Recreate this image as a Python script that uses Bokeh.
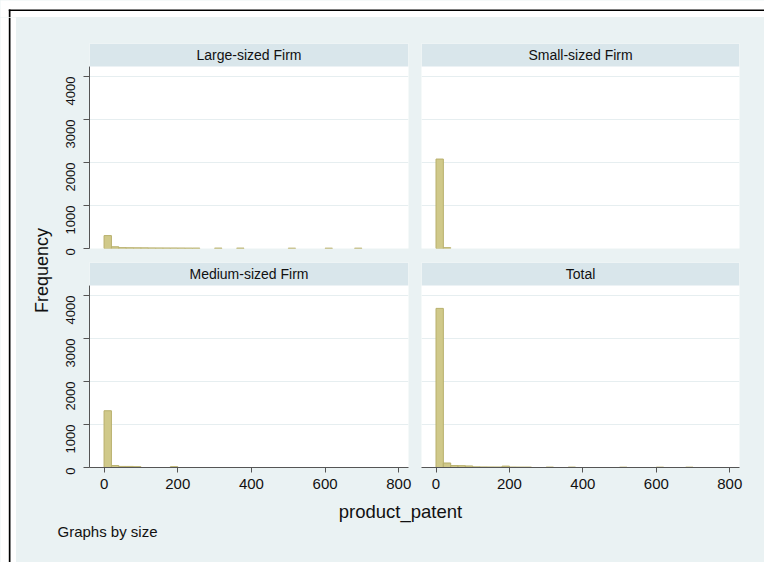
import math
from bokeh.plotting import figure
from bokeh.layouts import row, column
from bokeh.models import (Range1d, LinearAxis, FixedTicker, Grid, BoxAnnotation,
                          Label, ColumnDataSource)
from bokeh.embed import file_html
from bokeh.resources import INLINE
from bokeh.core.properties import value

# ---------------- data (histogram of product_patent by size) ----------------
BIN_START = 0
BIN_WIDTH = 20
# counts per bin (bins of width 20 starting at 0, 35 bins -> 0..700)
large = [300, 40, 20, 18, 16, 15, 14, 13, 12, 12, 11, 10, 10, 0, 0, 10, 0, 0, 10, 0,
         0, 0, 0, 0, 0, 8, 0, 0, 0, 0, 8, 0, 0, 0, 8]
medium = [1320, 45, 25, 25, 20, 0, 0, 0, 0, 20, 0, 0, 0, 0, 0, 0, 0, 0, 0, 0,
          0, 0, 0, 0, 0, 0, 0, 0, 0, 0, 0, 0, 0, 0, 0]
small = [2080, 20, 0, 0, 0, 0, 0, 0, 0, 0, 0, 0, 0, 0, 0, 0, 0, 0, 0, 0,
         0, 0, 0, 0, 0, 0, 0, 0, 0, 0, 0, 0, 0, 0, 0]
total = [a + b + c for a, b, c in zip(large, medium, small)]

panel_titles = ["Large-sized Firm", "Small-sized Firm", "Medium-sized Firm", "Total"]
x_ticks = [0, 200, 400, 600, 800]
y_ticks = [0, 1000, 2000, 3000, 4000]
x_title = "product_patent"
y_title = "Frequency"
note = "Graphs by size"

# ---------------- styles ----------------
FONT = "Liberation Sans"
BG = "#EAF2F3"
HEADER = "#D9E6EB"
GRID = "#E6EEF0"
BAR_FILL = "#D0C98A"
BAR_LINE = "#B8B06C"
AXIS = "#555555"
TEXT = "#111111"

X0, X1 = -39.5, 826.5
PLOT_TOP = 4233
Y1 = 4767


def make_panel(title, counts, width, height, bl, br, bt, bb, show_y, show_x):
    p = figure(width=width, height=height, output_backend="svg", toolbar_location=None,
               x_range=Range1d(X0, X1), y_range=Range1d(0, Y1),
               x_axis_type=None, y_axis_type=None, title=None,
               min_border_left=bl, min_border_right=br,
               min_border_top=bt, min_border_bottom=bb,
               background_fill_color="white", border_fill_color=BG,
               outline_line_color=None)
    p.add_layout(Grid(dimension=1, ticker=FixedTicker(ticks=y_ticks),
                      grid_line_color=GRID, grid_line_width=1))
    lefts, rights, tops = [], [], []
    for i, c in enumerate(counts):
        if c > 0:
            lefts.append(BIN_START + i * BIN_WIDTH)
            rights.append(BIN_START + (i + 1) * BIN_WIDTH)
            tops.append(c)
    src = ColumnDataSource(dict(left=lefts, right=rights, top=tops,
                                bottom=[0] * len(tops)))
    p.quad(left="left", right="right", top="top", bottom="bottom", source=src,
           fill_color=BAR_FILL, line_color=BAR_LINE, line_width=1)
    p.add_layout(BoxAnnotation(bottom=PLOT_TOP, fill_color=HEADER, fill_alpha=1,
                               line_color=None, level="annotation"))
    p.add_layout(Label(x=(X0 + X1) / 2, y=(PLOT_TOP + Y1) / 2, text=title,
                       text_align="center", text_baseline="middle",
                       text_font=FONT, text_font_size="14px", text_color=TEXT,
                       level="overlay"))
    if show_y:
        ax = LinearAxis(ticker=FixedTicker(ticks=y_ticks), bounds=(0, PLOT_TOP),
                        axis_line_color=AXIS, major_tick_line_color=AXIS,
                        major_tick_out=6, major_tick_in=0,
                        minor_tick_line_color=None,
                        major_label_orientation=math.pi / 2,
                        major_label_standoff=13,
                        major_label_text_font=FONT,
                        major_label_text_font_size="13px",
                        major_label_text_color=TEXT)
        p.add_layout(ax, "left")
    if show_x:
        ax = LinearAxis(ticker=FixedTicker(ticks=x_ticks),
                        axis_line_color=AXIS, major_tick_line_color=AXIS,
                        major_tick_out=5, major_tick_in=0,
                        minor_tick_line_color=None,
                        major_label_standoff=6,
                        major_label_text_font=FONT,
                        major_label_text_font_size="15px",
                        major_label_text_color=TEXT)
        p.add_layout(ax, "below")
    return p


# page layout: left column figure x 54..414 (frame 89..408), right x 414..764
tl = make_panel(panel_titles[0], large, 360, 238, 35, 6, 26, 7, True, False)
tr = make_panel(panel_titles[1], small, 350, 238, 7, 25, 26, 7, False, False)
bl = make_panel(panel_titles[2], medium, 360, 245, 35, 6, 7, 33, True, True)
br = make_panel(panel_titles[3], total, 350, 245, 7, 25, 7, 33, False, True)


def blank(width, height, x_start, fill):
    # x range in page pixels; y range measured upward from the panel's bottom edge
    p = figure(width=width, height=height, output_backend="svg", toolbar_location=None,
               x_range=Range1d(x_start, x_start + width), y_range=Range1d(0, height),
               x_axis_type=None, y_axis_type=None, title=None, min_border=0,
               background_fill_color=fill, border_fill_color=fill,
               outline_line_color=None)
    return p


# left text panel: page x 16..54, page y 17..500
left_txt = blank(38, 483, 16, BG)
left_txt.text(x=[41.5], y=[500 - 270], text=[y_title], angle=math.pi / 2,
              text_align="center", text_baseline="alphabetic",
              text_font=value(FONT), text_font_size="18px", text_color=TEXT)

# bottom text panel: page x 16..764, page y 500..562
bot_txt = blank(748, 62, 16, BG)
bot_txt.text(x=[400], y=[562 - 511], text=[x_title], text_align="center",
             text_baseline="alphabetic", text_font=value(FONT),
             text_font_size="18.5px", text_color=TEXT)
bot_txt.text(x=[57], y=[562 - 531], text=[note], text_align="left",
             text_baseline="alphabetic", text_font=value(FONT),
             text_font_size="15px", text_color=TEXT)

# outer frame strips (white with a black border line on left and top)
top_strip = blank(764, 17, 0, "white")
top_strip.add_layout(BoxAnnotation(left=8.3, bottom=17 - 10.4, top=17 - 8.9,
                                   fill_color="black", fill_alpha=1, line_color=None))
top_strip.add_layout(BoxAnnotation(left=8.3, right=10.0, top=17 - 8.9,
                                   fill_color="black", fill_alpha=1, line_color=None))
left_strip = blank(16, 545, 0, "white")
left_strip.add_layout(BoxAnnotation(left=8.3, right=10.0, fill_color="black",
                                    fill_alpha=1, line_color=None))

panels = column(row(tl, tr, styles={"background-color": BG}),
                row(bl, br, styles={"background-color": BG}),
                styles={"background-color": BG})
main = column(row(left_txt, panels, styles={"background-color": BG}), bot_txt,
              styles={"background-color": BG})
layout = column(top_strip, row(left_strip, main), styles={"background-color": BG})

open("out.html", "w").write(file_html(layout, INLINE))
